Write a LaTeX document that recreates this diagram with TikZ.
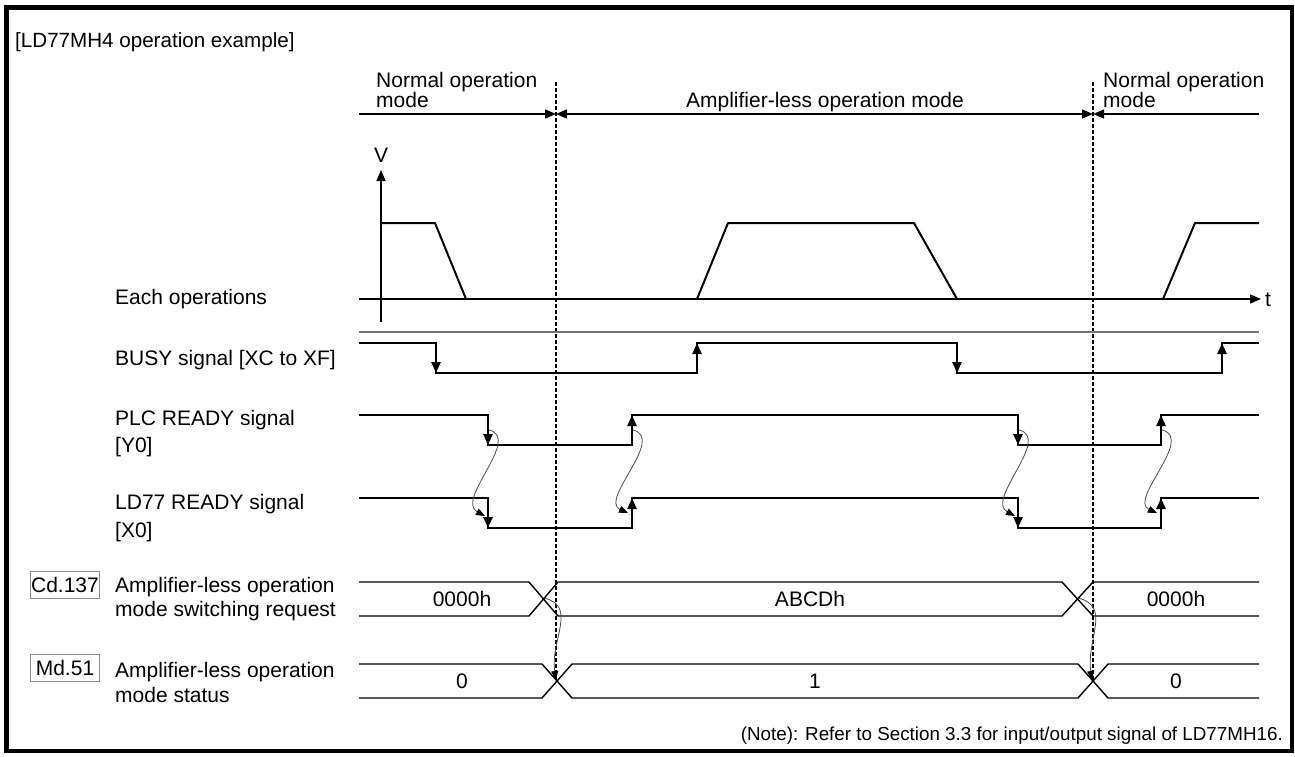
\documentclass[tikz,border=0pt]{standalone}
\usepackage{fontspec}
\setmainfont{Liberation Sans}
\usetikzlibrary{arrows.meta}
\begin{document}
\begin{tikzpicture}[x=1pt,y=-1pt,
  txt/.style={font=\fontsize{21}{25}\selectfont, inner sep=0pt},
  lbl/.style={txt, anchor=base west},
  sig/.style={line width=2.4pt, line join=miter},
  axis/.style={line width=1.4pt},
  wave/.style={line width=2pt, line join=round},
  bus/.style={line width=1.4pt, line join=miter},
  tipend/.style={-{Triangle[length=11pt,width=9pt]}},
  tipstart/.style={{Triangle[length=11pt,width=9pt]}-},
  tipboth/.style={{Triangle[length=11pt,width=9pt]}-{Triangle[length=11pt,width=9pt]}},
  curv/.style={line width=0.8pt, black!70, -{Triangle[length=9pt,width=7pt,fill=black,color=black]}},
  modeline/.style={line width=1.6pt, dash pattern=on 3.5pt off 2.5pt},
  tagbox/.style={txt, draw=black!45, line width=0.9pt, minimum width=69pt, minimum height=27pt}
]
\useasboundingbox (0,0) rectangle (1295,756);
\draw[line width=4.5pt] (6.5,7.5) rectangle (1292,751);

% title
\node[lbl, font=\fontsize{20.6}{24}\selectfont] (title) at (15,47) {[LD77MH4 operation example]};

% mode header
\node[lbl] (nm1a) at (376,87) {Normal operation};
\node[lbl] (nm1b) at (376,107) {mode};
\node[txt, anchor=base] (am) at (825,107) {Amplifier-less operation mode};
\node[lbl] (nm2a) at (1103,87) {Normal operation};
\node[lbl] (nm2b) at (1103,107) {mode};
\coordinate (m0) at (359,114);
\coordinate (m1) at (556,114);
\coordinate (m2) at (1093,114);
\coordinate (m3) at (1259,114);
\draw[axis, tipend] (m0) -- (m1);
\draw[axis, tipboth] (m1) -- (m2);
\draw[axis, tipstart] (m2) -- (m3);

% dashed mode boundaries
\coordinate (d1t) at (556,82);
\coordinate (d1b) at (556,681);
\coordinate (d2t) at (1093,82);
\coordinate (d2b) at (1093,681);
\draw[modeline] (d1t) -- (d1b);
\draw[modeline] (d2t) -- (d2b);

% velocity graph
\coordinate (vb) at (381,322);
\coordinate (vt) at (381,170);
\coordinate (tl) at (359,299);
\coordinate (tr) at (1261,299);
\draw[axis, tipend] (vb) -- (vt);
\draw[axis, tipend] (tl) -- (tr);
\node[txt, anchor=base] (V) at (381,162) {V};
\node[lbl] (t) at (1265,306) {t};
\draw[wave] (381,223) -- (435,223) -- (466,299);
\draw[wave] (697,299) -- (728,223) -- (914,223) -- (957,299);
\draw[wave] (1163,299) -- (1195,223) -- (1259,223);
\node[lbl] (each) at (115,304) {Each operations};

% separator
\draw[black!55, line width=1.6pt] (359,332) -- (1259,332);

% BUSY
\node[lbl] (busy) at (115,365) {BUSY signal [XC to XF]};
\draw[sig] (359,343) -- (436,343) -- (436,373) -- (697,373) -- (697,343) -- (957,343) -- (957,373) -- (1222,373) -- (1222,343) -- (1259,343);
\draw[sig, tipend] (436,355) -- (436,373);
\draw[sig, tipend] (697,361) -- (697,343);
\draw[sig, tipend] (957,355) -- (957,373);
\draw[sig, tipend] (1222,361) -- (1222,343);

% PLC READY
\node[lbl] (plc1) at (115,425) {PLC READY signal};
\node[lbl] (plc2) at (115,452) {[Y0]};
\draw[sig] (359,415) -- (488,415) -- (488,445) -- (632,445) -- (632,415) -- (1018,415) -- (1018,445) -- (1161,445) -- (1161,415) -- (1259,415);
\draw[sig, tipend] (488,427) -- (488,445);
\draw[sig, tipend] (632,433) -- (632,415);
\draw[sig, tipend] (1018,427) -- (1018,445);
\draw[sig, tipend] (1161,433) -- (1161,415);

% LD77 READY
\node[lbl] (ld1) at (115,509) {LD77 READY signal};
\node[lbl] (ld2) at (115,537) {[X0]};
\draw[sig] (359,498) -- (488,498) -- (488,528) -- (632,528) -- (632,498) -- (1018,498) -- (1018,528) -- (1161,528) -- (1161,498) -- (1259,498);
\draw[sig, tipend] (488,510) -- (488,528);
\draw[sig, tipend] (632,516) -- (632,498);
\draw[sig, tipend] (1018,510) -- (1018,528);
\draw[sig, tipend] (1161,516) -- (1161,498);

% causal curves
\draw[curv] (489,430) .. controls (522,438) and (455,500) .. (485,516);
\draw[curv] (633,430) .. controls (666,438) and (599,500) .. (628,513);
\draw[curv] (1019,430) .. controls (1052,438) and (985,500) .. (1015,516);
\draw[curv] (1162,430) .. controls (1195,438) and (1128,500) .. (1157,513);

% Cd.137
\node[tagbox] (cd) at (65,585) {Cd.137};
\node[lbl] (cd1) at (115,592) {Amplifier-less operation};
\node[lbl] (cd2) at (115,616) {mode switching request};
\draw[bus] (359,582) -- (529,582) -- (558,616) -- (1062,616) -- (1093,582) -- (1259,582);
\draw[bus] (359,616) -- (529,616) -- (558,582) -- (1062,582) -- (1093,616) -- (1259,616);
\node[txt] (cdv1) at (462,599) {0000h};
\node[txt] (cdv2) at (810,599) {ABCDh};
\node[txt] (cdv3) at (1176,599) {0000h};

% Md.51
\node[tagbox] (md) at (65,668) {Md.51};
\node[lbl] (md1) at (115,677) {Amplifier-less operation};
\node[lbl] (md2) at (115,702) {mode status};
\draw[bus] (359,664) -- (542,664) -- (572,698) -- (1078,698) -- (1108,664) -- (1259,664);
\draw[bus] (359,698) -- (542,698) -- (572,664) -- (1078,664) -- (1108,698) -- (1259,698);
\node[txt] (mdv1) at (462,681) {0};
\node[txt] (mdv2) at (815,681) {1};
\node[txt] (mdv3) at (1176,681) {0};

\draw[curv] (544,598) .. controls (578,606) and (550,640) .. (556,680);
\draw[curv] (1078,598) .. controls (1112,606) and (1086,640) .. (1092,680);

% note
\node[txt, anchor=base east, font=\fontsize{18.8}{22}\selectfont] (note) at (1283,740) {(Note): Refer to Section 3.3 for input/output signal of LD77MH16.};
\end{tikzpicture}
\end{document}
